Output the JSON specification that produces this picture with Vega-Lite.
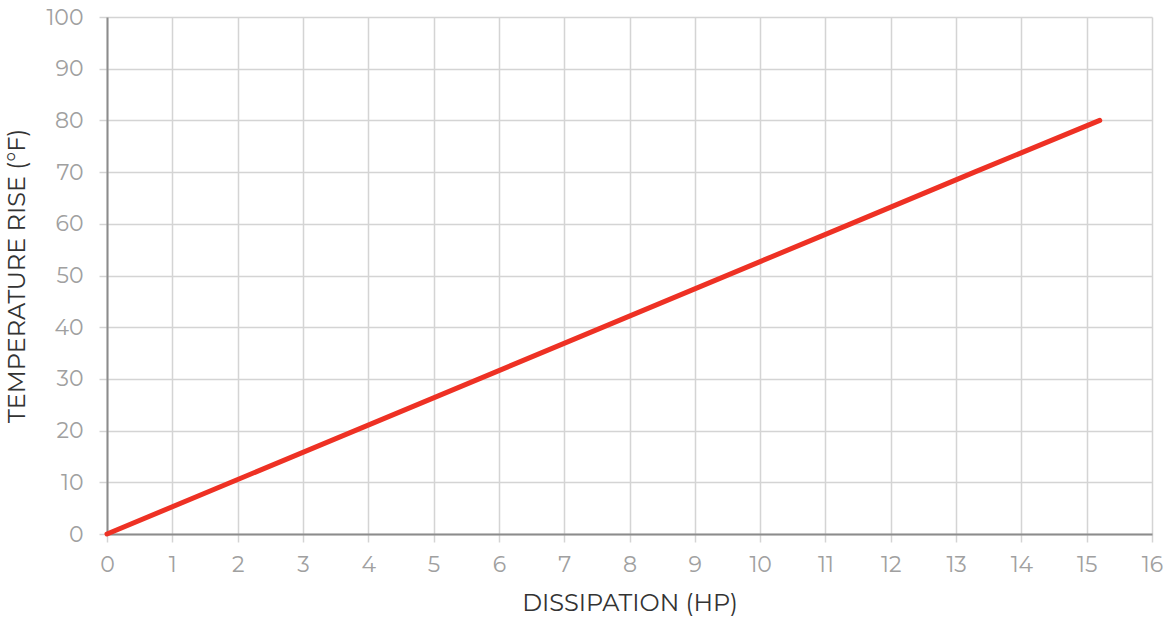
{
  "$schema": "https://vega.github.io/schema/vega-lite/v6.json",
  "width": 1045,
  "height": 517,
  "autosize": {"type": "none"},
  "padding": {"left": 107, "top": 17, "right": 16, "bottom": 85},
  "background": "white",
  "config": {"view": {"stroke": null}},
  "data": {"values": [
    {"hp": 0, "rise": 0},
    {"hp": 11.35, "rise": 59.8},
    {"hp": 13.3, "rise": 70.1},
    {"hp": 15.2, "rise": 80}
  ]},
  "mark": {"type": "line", "color": "#ee3124", "strokeWidth": 5, "strokeCap": "round", "strokeJoin": "round"},
  "encoding": {
    "x": {
      "field": "hp", "type": "quantitative",
      "scale": {"domain": [0, 16], "nice": false, "zero": true},
      "axis": {
        "title": "DISSIPATION (HP)", "values": [0,1,2,3,4,5,6,7,8,9,10,11,12,13,14,15,16],
        "grid": true, "gridColor": "#d4d4d4", "gridWidth": 1.5,
        "domainColor": "#8c8c8c", "domainWidth": 2,
        "tickColor": "#d4d4d4", "tickSize": 8, "tickWidth": 1.5,
        "labelFont": "Montserrat, Lato, sans-serif", "labelFontSize": 22, "labelColor": "#a0a0a0", "labelFontWeight": 400,
        "labelPadding": 12, "labelFlush": false,
        "titleFont": "Montserrat, Lato, sans-serif", "titleFontSize": 24, "titleColor": "#333333", "titleFontWeight": 400,
        "titlePadding": 16
      }
    },
    "y": {
      "field": "rise", "type": "quantitative",
      "scale": {"domain": [0, 100], "nice": false},
      "axis": {
        "title": "TEMPERATURE RISE (°F)", "values": [0,10,20,30,40,50,60,70,80,90,100],
        "grid": true, "gridColor": "#d4d4d4", "gridWidth": 1.5,
        "domainColor": "#8c8c8c", "domainWidth": 2,
        "tickColor": "#d4d4d4", "tickSize": 8, "tickWidth": 1.5,
        "labelFont": "Montserrat, Lato, sans-serif", "labelFontSize": 22, "labelColor": "#a0a0a0", "labelFontWeight": 400,
        "labelPadding": 16, "labelFlush": false,
        "titleFont": "Montserrat, Lato, sans-serif", "titleFontSize": 24, "titleColor": "#333333", "titleFontWeight": 400,
        "titlePadding": 16
      }
    }
  }
}
